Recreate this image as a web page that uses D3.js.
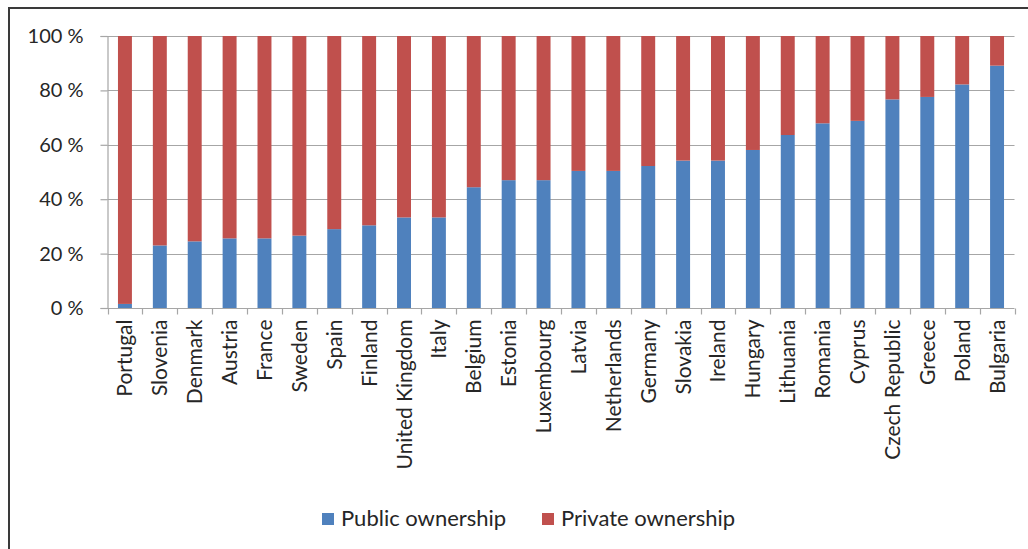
<!DOCTYPE html>
<html>
<head>
<meta charset="utf-8">
<script src="https://cdn.jsdelivr.net/npm/d3@7/dist/d3.min.js"></script>
<style>
  html, body { margin: 0; padding: 0; background: #fff; }
  svg { display: block; }
  text { font-family: Lato, "Open Sans", sans-serif; fill: #262626; }
</style>
</head>
<body>
<svg id="chart" width="1028" height="549"></svg>
<script>
const countries = ["Portugal","Slovenia","Denmark","Austria","France","Sweden","Spain","Finland","United Kingdom","Italy","Belgium","Estonia","Luxembourg","Latvia","Netherlands","Germany","Slovakia","Ireland","Hungary","Lithuania","Romania","Cyprus","Czech Republic","Greece","Poland","Bulgaria"];
const publicShare = [1.5,23,24.5,25.6,25.6,26.6,29,30.4,33.3,33.3,44.4,47,47,50.4,50.4,52.2,54.2,54.2,58.1,63.6,67.9,68.8,76.7,77.6,82.2,89.1];
const privateShare = publicShare.map(v => 100 - v);
const yTicks = [0,20,40,60,80,100];
const seriesNames = ["Public ownership","Private ownership"];
const seriesColors = ["#4F81BD","#C0504D"];

const svg = d3.select("#chart");
svg.append("rect").attr("width",1028).attr("height",549).attr("fill","#fff");
// outer frame (left and top visible)
svg.append("line").attr("x1",9).attr("x2",9).attr("y1",8).attr("y2",549).attr("stroke","#3a3a3a").attr("stroke-width",2);
svg.append("line").attr("x1",8).attr("x2",1028).attr("y1",8).attr("y2",8).attr("stroke","#3a3a3a").attr("stroke-width",2);

const pLeft = 107.5, pRight = 1014.5, pTop = 36, pBottom = 308;
const x = d3.scaleBand().domain(countries).range([pLeft,pRight]).paddingInner(0.6).paddingOuter(0.3);
const y = d3.scaleLinear().domain([0,100]).range([pBottom,pTop]);

// gridlines
svg.append("g").selectAll("line").data(yTicks.filter(t=>t>0)).join("line")
  .attr("x1",pLeft).attr("x2",pRight).attr("y1",d=>Math.round(y(d))+0.5).attr("y2",d=>Math.round(y(d))+0.5)
  .attr("stroke","#a6a6a6").attr("stroke-width",1.2);

// y axis
const yAxis = svg.append("g").attr("transform",`translate(${pLeft},0)`)
  .call(d3.axisLeft(y).tickValues(yTicks).tickSize(7).tickFormat(d=>d+" %"));
yAxis.select(".domain").attr("stroke","#a6a6a6").attr("stroke-width",1.2);
yAxis.selectAll(".tick line").attr("stroke","#a6a6a6").attr("stroke-width",1.2);
yAxis.selectAll(".tick text").attr("x",-24).attr("font-size",20).attr("font-family","Lato, sans-serif").attr("fill","#262626");

// stacked bars
const stackData = countries.map((c,i)=>({country:c, pub:publicShare[i], priv:privateShare[i]}));
const stack = d3.stack().keys(["pub","priv"])(stackData);
svg.append("g").selectAll("g").data(stack).join("g")
  .attr("fill",(d,i)=>seriesColors[i])
  .selectAll("rect").data(d=>d).join("rect")
  .attr("x",d=>x(d.data.country))
  .attr("width",x.bandwidth())
  .attr("y",d=>y(d[1]))
  .attr("height",d=>y(d[0])-y(d[1]));

// x axis
const xAxisG = svg.append("g").attr("transform",`translate(0,${pBottom+0.5})`);
xAxisG.append("line").attr("x1",pLeft).attr("x2",pRight).attr("stroke","#a6a6a6").attr("stroke-width",1.2);
const step = x.step();
const boundaries = d3.range(countries.length+1).map(i=>pLeft + i*step);
xAxisG.selectAll("line.tk").data(boundaries).join("line").attr("class","tk")
  .attr("x1",d=>Math.round(d)+0.5).attr("x2",d=>Math.round(d)+0.5).attr("y1",0).attr("y2",6)
  .attr("stroke","#a6a6a6").attr("stroke-width",1.2);
xAxisG.selectAll("text").data(countries).join("text")
  .attr("transform",d=>`translate(${x(d)+x.bandwidth()/2+7.5},11) rotate(-90)`)
  .attr("text-anchor","end")
  .attr("font-size",21)
  .text(d=>d);

// legend
const legend = svg.append("g");
const legendX = [322,542];
seriesNames.forEach((n,i)=>{
  legend.append("rect").attr("x",legendX[i]).attr("y",513).attr("width",12).attr("height",12).attr("fill",seriesColors[i]);
  legend.append("text").attr("x",legendX[i]+19).attr("y",526).attr("font-size",22).text(n);
});
</script>
</body>
</html>
